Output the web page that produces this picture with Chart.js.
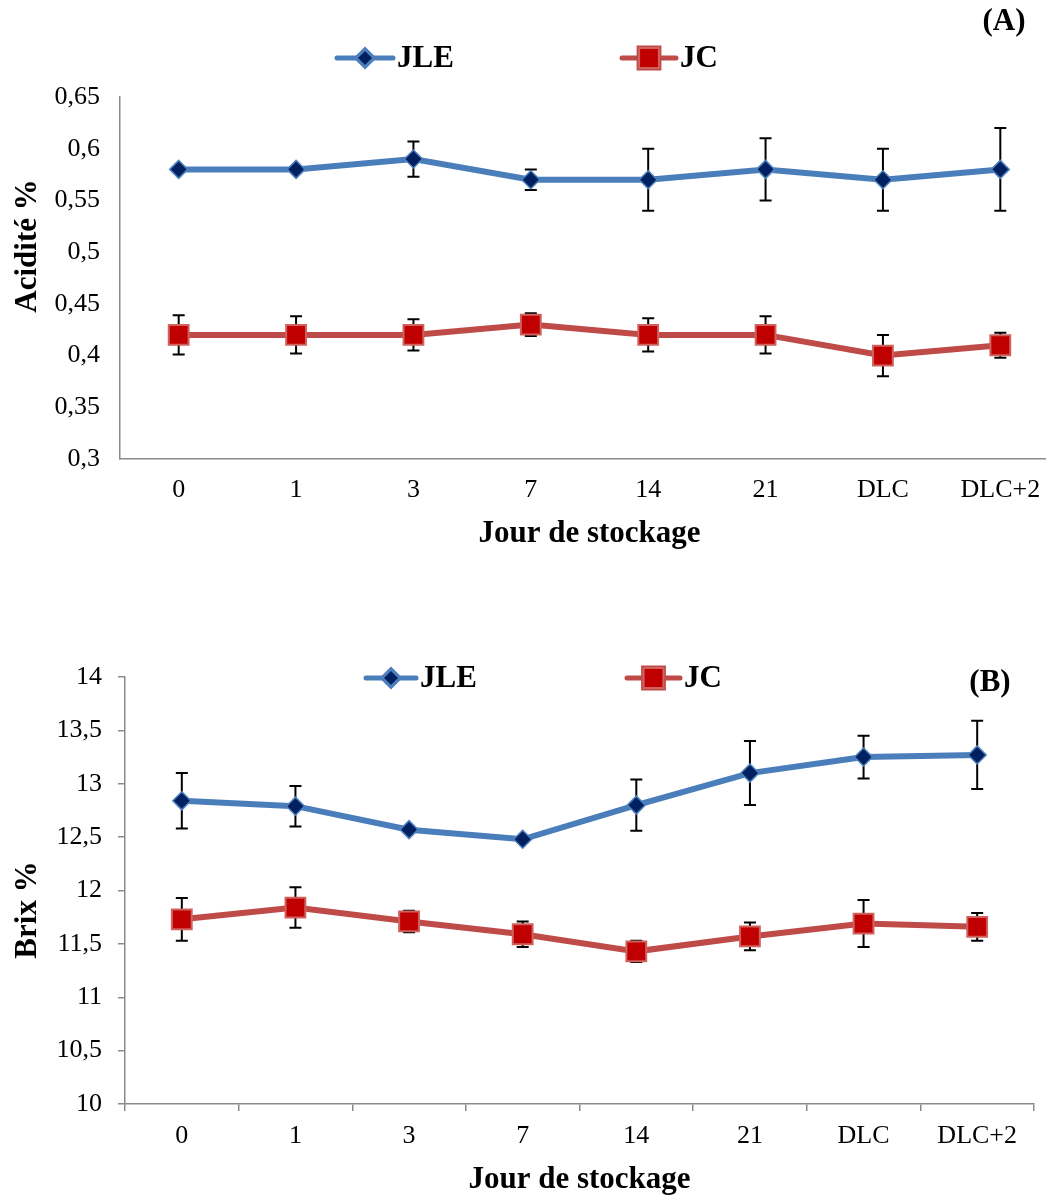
<!DOCTYPE html>
<html>
<head>
<meta charset="utf-8">
<script src="https://cdn.jsdelivr.net/npm/chart.js@4/dist/chart.umd.min.js"></script>
<style>
  html, body { margin: 0; padding: 0; background: #fff; overflow: hidden; }
  #wrap { position: relative; width: 1046px; height: 1196px; overflow: hidden; }
  #boxA { position: absolute; left: 0; top: 0; width: 1080px; height: 600px; }
  #boxB { position: absolute; left: 0; top: 600px; width: 1050px; height: 596px; }
</style>
</head>
<body>
<div id="wrap">
  <div id="boxA"><canvas id="chartA"></canvas></div>
  <div id="boxB"><canvas id="chartB"></canvas></div>
</div>
<script>
// jours de stockage
const days = ['0', '1', '3', '7', '14', '21', 'DLC', 'DLC+2'];
const seriesNames = ['JLE', 'JC'];

// (A) acidité
const acidJLE = [0.58, 0.58, 0.59, 0.57, 0.57, 0.58, 0.57, 0.58];
const acidJLEerr = [0, 0, 0.017, 0.01, 0.03, 0.03, 0.03, 0.04];
const acidJC = [0.42, 0.42, 0.42, 0.43, 0.42, 0.42, 0.40, 0.41];
const acidJCerr = [0.019, 0.018, 0.015, 0.011, 0.016, 0.018, 0.02, 0.012];
const acidTicks = ['0,3', '0,35', '0,4', '0,45', '0,5', '0,55', '0,6', '0,65'];

// (B) brix
const brixJLE = [12.84, 12.79, 12.57, 12.48, 12.80, 13.10, 13.25, 13.27];
const brixJLEerr = [0.26, 0.19, 0, 0, 0.24, 0.30, 0.20, 0.32];
const brixJC = [11.73, 11.84, 11.71, 11.59, 11.43, 11.57, 11.69, 11.66];
const brixJCerr = [0.20, 0.19, 0.10, 0.12, 0.10, 0.13, 0.22, 0.13];
const brixTicks = ['10', '10,5', '11', '11,5', '12', '12,5', '13', '13,5', '14'];

const FONT = '"Liberation Serif", "Times New Roman", serif';
const AXIS = '#8a8a8a';

const errorBars = {
  id: 'errorBars',
  beforeDatasetsDraw(chart) {
    const ctx = chart.ctx, y = chart.scales.y;
    ctx.save();
    ctx.strokeStyle = '#000';
    ctx.lineWidth = 2;
    chart.data.datasets.forEach((ds, i) => {
      const meta = chart.getDatasetMeta(i);
      ds.errors.forEach((e, j) => {
        if (!e) return;
        const x = meta.data[j].x;
        const top = y.getPixelForValue(ds.data[j] + e);
        const bot = y.getPixelForValue(ds.data[j] - e);
        ctx.beginPath();
        ctx.moveTo(x, top); ctx.lineTo(x, bot);
        ctx.moveTo(x - 6, top); ctx.lineTo(x + 6, top);
        ctx.moveTo(x - 6, bot); ctx.lineTo(x + 6, bot);
        ctx.stroke();
      });
    });
    ctx.restore();
  }
};

// titres, legende, lettre du panneau
const decor = {
  id: 'decor',
  afterDraw(chart, args, o) {
    const ctx = chart.ctx, area = chart.chartArea;
    ctx.save();
    ctx.fillStyle = '#000';
    ctx.font = 'bold 31px ' + FONT;
    ctx.textBaseline = 'middle';
    ctx.textAlign = 'center';
    ctx.fillText(o.xTitle, (area.left + area.right) / 2, o.xTitleY);
    ctx.fillText(o.panel, o.panelPos[0], o.panelPos[1]);
    ctx.save();
    ctx.translate(o.yTitlePos[0], o.yTitlePos[1]);
    ctx.rotate(-Math.PI / 2);
    ctx.fillText(o.yTitle, 0, 0);
    ctx.restore();

    // legende
    chart.data.datasets.forEach((ds, i) => {
      const it = o.legend[i];
      const ly = o.legendY;
      ctx.strokeStyle = ds.borderColor;
      ctx.lineWidth = 5;
      ctx.lineCap = 'round';
      ctx.beginPath();
      ctx.moveTo(it.x, ly);
      ctx.lineTo(it.x + it.len, ly);
      ctx.stroke();
      Chart.helpers.drawPoint(ctx, {
        pointStyle: ds.pointStyle,
        radius: ds.pointStyle === 'rect' ? 14 : 8,
        rotation: 0,
        borderWidth: ds.pointBorderWidth
      }, it.x + it.len / 2, ly);
      ctx.fillStyle = ds.pointBackgroundColor;
      ctx.strokeStyle = ds.pointBorderColor;
      ctx.lineWidth = ds.pointBorderWidth;
      ctx.fill();
      ctx.stroke();
      ctx.fillStyle = '#000';
      ctx.textAlign = 'left';
      ctx.fillText(ds.label, it.x + it.len + 4, ly + 1);
    });
    ctx.restore();
  }
};

function makeDatasets(jle, jleErr, jc, jcErr) {
  return [
    {
      label: seriesNames[0], data: jle, errors: jleErr,
      borderColor: '#4A7EBB', borderWidth: 6,
      pointStyle: 'rectRot', pointRadius: 9, pointHoverRadius: 9,
      pointBackgroundColor: '#002060', pointBorderColor: '#4F81BD', pointBorderWidth: 1.5,
      tension: 0
    },
    {
      label: seriesNames[1], data: jc, errors: jcErr,
      borderColor: '#BE4B48', borderWidth: 6,
      pointStyle: 'rect', pointRadius: 14, pointHoverRadius: 14,
      pointBackgroundColor: '#C00000', pointBorderColor: '#D0625E', pointBorderWidth: 2,
      tension: 0
    }
  ];
}

function makeChart(id, cfg) {
  return new Chart(document.getElementById(id), {
    type: 'line',
    data: { labels: days, datasets: makeDatasets(...cfg.data) },
    plugins: [errorBars, decor],
    options: {
      responsive: true,
      maintainAspectRatio: false,
      animation: false,
      layout: { padding: cfg.padding },
      plugins: { legend: { display: false }, tooltip: { enabled: false }, decor: cfg.decor },
      scales: {
        x: {
          offset: true,
          grid: {
            offset: true, drawOnChartArea: false,
            drawTicks: cfg.ticks, tickLength: 7, color: AXIS, lineWidth: 1.5
          },
          border: { display: true, color: AXIS, width: 1.5 },
          ticks: { color: '#000', font: { family: FONT, size: 26 }, padding: cfg.xPad, maxRotation: 0, autoSkip: false },
          afterFit: s => { s.height = 60; }
        },
        y: {
          min: cfg.min, max: cfg.max,
          grid: {
            drawOnChartArea: false,
            drawTicks: cfg.ticks, tickLength: 7, color: AXIS, lineWidth: 1.5
          },
          border: { display: true, color: AXIS, width: 1.5 },
          ticks: {
            stepSize: cfg.step, color: '#000', font: { family: FONT, size: 26 }, padding: cfg.yPad,
            callback: (v, i) => cfg.tickLabels[i]
          },
          afterFit: s => { s.width = cfg.yWidth; }
        }
      }
    }
  });
}

makeChart('chartA', {
  data: [acidJLE, acidJLEerr, acidJC, acidJCerr],
  min: 0.3, max: 0.65, step: 0.05, tickLabels: acidTicks,
  ticks: false, xPad: 16, yPad: 20, yWidth: 120,
  padding: { top: 97, left: 0, right: 21, bottom: 81 },
  decor: {
    xTitle: 'Jour de stockage', xTitleY: 534,
    yTitle: 'Acidité %', yTitlePos: [28, 246],
    panel: '(A)', panelPos: [1004, 22],
    legendY: 58, legend: [{ x: 337, len: 56 }, { x: 622, len: 54 }]
  }
});

makeChart('chartB', {
  data: [brixJLE, brixJLEerr, brixJC, brixJCerr],
  min: 10, max: 14, step: 0.5, tickLabels: brixTicks,
  ticks: true, xPad: 10, yPad: 16, yWidth: 125,
  padding: { top: 77, left: 0, right: 3, bottom: 32 },
  decor: {
    xTitle: 'Jour de stockage', xTitleY: 580,
    yTitle: 'Brix %', yTitlePos: [28, 310],
    panel: '(B)', panelPos: [990, 83],
    legendY: 78, legend: [{ x: 366, len: 50 }, { x: 627, len: 53 }]
  }
});
</script>
</body>
</html>
